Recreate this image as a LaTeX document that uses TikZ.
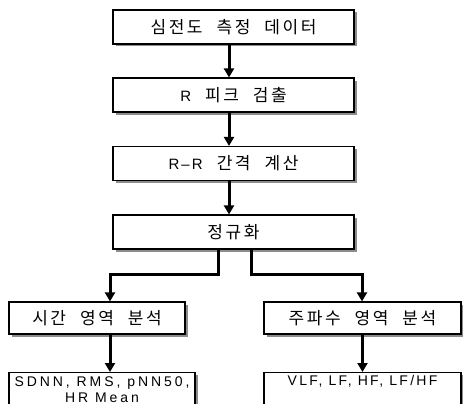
\documentclass[tikz,border=0pt]{standalone}
\usepackage{fontspec}
\usetikzlibrary{arrows.meta,shadows}
\newfontfamily\krfont[LetterSpace=15,WordSpace=2.2]{Noto Sans CJK KR}
\newfontfamily\enfont[LetterSpace=14]{Liberation Sans}
\newcommand{\lat}[1]{{\enfont\fontsize{15}{18}\selectfont #1}}
\tikzset{
  stage/.style={draw,line width=1.2pt,fill=white,minimum height=34pt,inner sep=0pt,
    drop shadow={shadow xshift=2.5pt,shadow yshift=-2.5pt,fill=black!45,opacity=1},
    font=\krfont\fontsize{17}{20}\selectfont},
  result/.style={stage,anchor=north,align=center,inner ysep=3pt,
    font=\enfont\fontsize{14}{16}\selectfont\addfontfeatures{LetterSpace=#1}},
  flow/.style={line width=3pt,-{Triangle[width=10pt,length=9pt]}}
}
\begin{document}
\begin{tikzpicture}[x=1pt,y=-1pt]
  \useasboundingbox (0,0) rectangle (463,404);
  \clip (0,0) rectangle (463,404);
  % main chain
  \node[stage,minimum width=241pt] (ecg) at (233.5,27) {심전도 측정 데이터};
  \node[stage,minimum width=241pt] (rpk) at (233.5,95) {\lat{R} 피크 검출};
  \node[stage,minimum width=241pt] (rri) at (233.5,163.5) {\lat{R–R} 간격 계산};
  \node[stage,minimum width=241pt] (norm) at (233.5,232) {정규화};
  \foreach \a/\b in {ecg/rpk,rpk/rri,rri/norm}
    \draw[flow] ([xshift=-4.5pt]\a.south) -- ([xshift=-4.5pt]\b.north);
  % two analysis branches
  \node[stage,minimum width=176pt,minimum height=32pt] (time) at (97,318) {시간 영역 분석};
  \node[stage,minimum width=197pt,minimum height=32pt] (freq) at (362.5,318) {주파수 영역 분석};
  \coordinate (tsplit) at (110,274);
  \coordinate (fsplit) at (362,274);
  \draw[flow] ([xshift=-15.5pt]norm.south) |- (tsplit) -- (tsplit |- time.north);
  \draw[flow] ([xshift=17.5pt]norm.south) |- (fsplit) -- (fsplit |- freq.north);
  % results (cut off at the bottom)
  \node[result=21,minimum width=186pt] (tres) at (102,372) {SDNN, RMS, pNN50,\\HR Mean};
  \node[result=16,minimum width=197pt,text depth=22pt] (fres) at (362.5,372) {VLF, LF, HF, LF/HF};
  \draw[flow] ([xshift=13pt]time.south) -- ([xshift=13pt]time.south |- tres.north);
  \draw[flow] (freq.south) -- (freq.south |- fres.north);
\end{tikzpicture}
\end{document}
